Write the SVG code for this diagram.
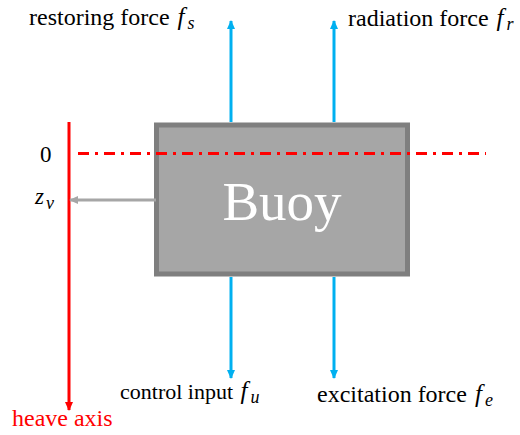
<svg xmlns="http://www.w3.org/2000/svg" width="520" height="435" viewBox="0 0 520 435">
<defs>
<style>
.lbl{font-family:"Liberation Serif","Times New Roman",serif;font-size:24px;fill:#000}
.m{font-style:italic;font-size:25px}
.sub{font-size:18px;font-style:italic}
.blue{stroke:#00b0f0;stroke-width:3;fill:none}
</style>
<marker id="ab" viewBox="0 0 10 10" refX="9" refY="5" markerWidth="3" markerHeight="3" orient="auto" markerUnits="strokeWidth"><path d="M0,0.5 L10,5 L0,9.5 z" fill="#00b0f0"/></marker>
<marker id="ar" viewBox="0 0 10 10" refX="9" refY="5" markerWidth="3" markerHeight="3" orient="auto" markerUnits="strokeWidth"><path d="M0,0.5 L10,5 L0,9.5 z" fill="#ff0000"/></marker>
<marker id="ag" viewBox="0 0 10 10" refX="9" refY="5" markerWidth="3" markerHeight="3" orient="auto" markerUnits="strokeWidth"><path d="M0,0.5 L10,5 L0,9.5 z" fill="#a6a6a6"/></marker>
</defs>
<g id="buoy">
<rect x="156.5" y="125" width="251" height="149" fill="#a6a6a6" stroke="#7f7f7f" stroke-width="5"/>
<text x="282" y="220" text-anchor="middle" font-family="Liberation Serif,serif" font-size="55" fill="#fff">Buoy</text>
</g>
<g id="connectors">
<line x1="231" y1="122" x2="231" y2="21" class="blue" marker-end="url(#ab)"/>
<line x1="334" y1="122" x2="334" y2="21" class="blue" marker-end="url(#ab)"/>
<line x1="231" y1="277" x2="231" y2="378" class="blue" marker-end="url(#ab)"/>
<line x1="334" y1="277" x2="334" y2="378" class="blue" marker-end="url(#ab)"/>
<line x1="69" y1="122" x2="69" y2="410" stroke="#ff0000" stroke-width="3" marker-end="url(#ar)"/>
<line x1="156" y1="200" x2="70" y2="200" stroke="#a6a6a6" stroke-width="3" marker-end="url(#ag)"/>
<line x1="78" y1="153.5" x2="486" y2="153.5" stroke="#ff0000" stroke-width="3" stroke-dasharray="11,6,3,6"/>
</g>
<g id="labels">
<text class="lbl" x="29" y="25">restoring force <tspan class="m" dx="2">f</tspan><tspan class="sub" dx="3" dy="4">s</tspan></text>
<text class="lbl" x="348" y="26">radiation force <tspan class="m" dx="2">f</tspan><tspan class="sub" dx="3" dy="4">r</tspan></text>
<text class="lbl" x="40" y="162" style="font-size:23px">0</text>
<text class="lbl" x="35" y="204" style="font-size:23px"><tspan class="m" style="font-size:23px">z</tspan><tspan class="sub" dx="2" dy="5">v</tspan></text>
<text class="lbl" x="120" y="399" style="font-size:22px">control input <tspan class="m" dx="2">f</tspan><tspan class="sub" dx="3" dy="4">u</tspan></text>
<text class="lbl" x="317" y="402">excitation force <tspan class="m" dx="2">f</tspan><tspan class="sub" dx="3" dy="4">e</tspan></text>
<text class="lbl" x="12" y="426" style="fill:#ff0000">heave axis</text>
</g>
</svg>
